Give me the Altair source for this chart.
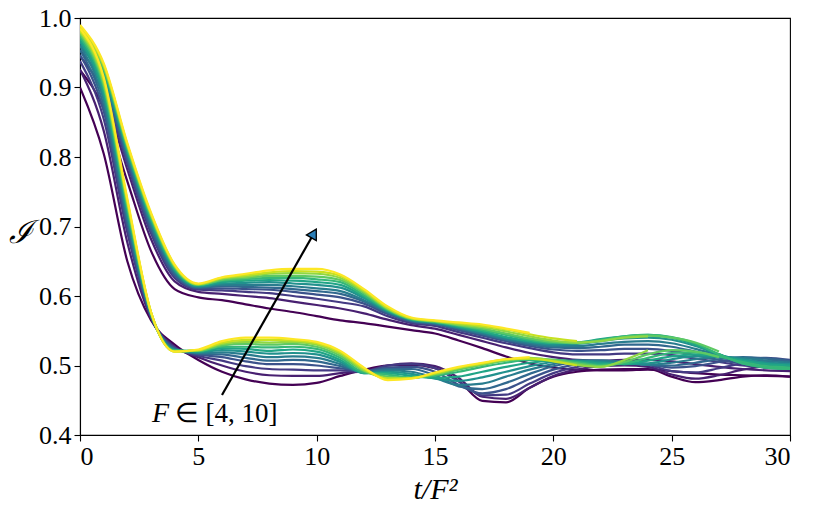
import altair as alt
import pandas as pd

# F values (one curve per F in each family), dark -> yellow
F_values = [4.0, 4.5, 5.0, 5.5, 6.0, 6.5, 7.0, 7.5, 8.0, 8.5, 9.0, 9.5, 10.0]
t_grid = list(range(31))  # t/F^2 sample positions 0..30

# Upper family: row k holds the values at t/F^2 = k for F = 4 ... 10 (shorter rows: curves ended)
upper_by_t = [
    [0.925, 0.945, 0.954, 0.961, 0.966, 0.971, 0.974, 0.978, 0.981, 0.984, 0.986, 0.988, 0.990],
    [0.870, 0.890, 0.899, 0.906, 0.911, 0.916, 0.919, 0.923, 0.926, 0.929, 0.931, 0.933, 0.935],
    [0.765, 0.782, 0.790, 0.795, 0.800, 0.804, 0.807, 0.810, 0.812, 0.815, 0.817, 0.818, 0.820],
    [0.665, 0.682, 0.690, 0.695, 0.700, 0.704, 0.707, 0.710, 0.712, 0.715, 0.717, 0.718, 0.720],
    [0.610, 0.621, 0.626, 0.629, 0.632, 0.635, 0.637, 0.638, 0.640, 0.642, 0.643, 0.644, 0.645],
    [0.598, 0.606, 0.609, 0.611, 0.612, 0.613, 0.614, 0.615, 0.616, 0.616, 0.617, 0.617, 0.618],
    [0.594, 0.603, 0.608, 0.611, 0.614, 0.616, 0.618, 0.620, 0.622, 0.623, 0.625, 0.626, 0.627],
    [0.588, 0.600, 0.606, 0.610, 0.613, 0.616, 0.619, 0.622, 0.624, 0.626, 0.628, 0.630, 0.632],
    [0.582, 0.597, 0.604, 0.609, 0.612, 0.616, 0.620, 0.623, 0.626, 0.629, 0.632, 0.634, 0.637],
    [0.577, 0.592, 0.600, 0.606, 0.610, 0.614, 0.618, 0.622, 0.626, 0.629, 0.633, 0.636, 0.639],
    [0.571, 0.587, 0.596, 0.602, 0.607, 0.611, 0.616, 0.620, 0.624, 0.628, 0.632, 0.635, 0.639],
    [0.565, 0.582, 0.591, 0.598, 0.603, 0.607, 0.612, 0.616, 0.620, 0.623, 0.626, 0.629, 0.631],
    [0.561, 0.575, 0.585, 0.589, 0.592, 0.594, 0.597, 0.599, 0.601, 0.604, 0.606, 0.608, 0.610],
    [0.556, 0.566, 0.571, 0.574, 0.576, 0.577, 0.578, 0.579, 0.580, 0.581, 0.582, 0.583, 0.585],
    [0.551, 0.558, 0.561, 0.563, 0.564, 0.565, 0.566, 0.566, 0.567, 0.567, 0.568, 0.568, 0.569],
    [0.546, 0.553, 0.557, 0.559, 0.560, 0.561, 0.562, 0.562, 0.563, 0.563, 0.564, 0.564, 0.565],
    [0.536, 0.544, 0.548, 0.551, 0.553, 0.554, 0.555, 0.556, 0.557, 0.558, 0.559, 0.561, 0.562],
    [0.525, 0.535, 0.540, 0.543, 0.545, 0.546, 0.548, 0.549, 0.551, 0.553, 0.555, 0.557, 0.559],
    [0.513, 0.526, 0.532, 0.535, 0.537, 0.538, 0.540, 0.541, 0.544, 0.546, 0.549, 0.552, 0.553],
    [0.503, 0.518, 0.525, 0.528, 0.530, 0.532, 0.534, 0.535, 0.537, 0.539, 0.542, 0.545, 0.547],
    [0.497, 0.512, 0.519, 0.523, 0.526, 0.528, 0.530, 0.532, 0.533, 0.534, 0.536, 0.539],
    [0.494, 0.508, 0.516, 0.521, 0.525, 0.528, 0.531, 0.533, 0.533, 0.532, 0.533, 0.535],
    [0.493, 0.507, 0.516, 0.522, 0.527, 0.531, 0.535, 0.538, 0.537, 0.536, 0.535],
    [0.493, 0.508, 0.517, 0.524, 0.530, 0.534, 0.539, 0.542, 0.542, 0.541, 0.540],
    [0.494, 0.508, 0.517, 0.524, 0.530, 0.535, 0.540, 0.544, 0.544, 0.543, 0.542],
    [0.492, 0.506, 0.515, 0.521, 0.527, 0.532, 0.537, 0.540, 0.541, 0.540],
    [0.489, 0.502, 0.510, 0.515, 0.520, 0.524, 0.528, 0.530, 0.532, 0.533],
    [0.487, 0.498, 0.505, 0.508, 0.512, 0.515, 0.516, 0.516, 0.516, 0.520],
    [0.486, 0.495, 0.500, 0.503, 0.506, 0.508, 0.505, 0.503, 0.503],
    [0.485, 0.493, 0.497, 0.500, 0.502, 0.504, 0.499, 0.497, 0.497],
    [0.484, 0.492, 0.496, 0.498, 0.500, 0.502, 0.497, 0.495, 0.495],
]

# Lower family, same layout
lower_by_t = [
    [0.900, 0.926, 0.938, 0.947, 0.954, 0.960, 0.965, 0.969, 0.973, 0.977, 0.980, 0.982, 0.985],
    [0.805, 0.838, 0.855, 0.866, 0.874, 0.882, 0.889, 0.894, 0.900, 0.904, 0.908, 0.912, 0.915],
    [0.650, 0.677, 0.691, 0.700, 0.707, 0.713, 0.718, 0.723, 0.727, 0.731, 0.735, 0.737, 0.740],
    [0.565, 0.568, 0.570, 0.571, 0.572, 0.573, 0.574, 0.575, 0.575, 0.576, 0.576, 0.577, 0.577],
    [0.530, 0.527, 0.526, 0.525, 0.524, 0.523, 0.522, 0.522, 0.521, 0.521, 0.520, 0.520, 0.520],
    [0.508, 0.512, 0.514, 0.516, 0.517, 0.518, 0.519, 0.520, 0.521, 0.521, 0.522, 0.522, 0.523],
    [0.491, 0.500, 0.507, 0.512, 0.516, 0.519, 0.522, 0.525, 0.527, 0.529, 0.531, 0.533, 0.535],
    [0.480, 0.491, 0.499, 0.506, 0.511, 0.516, 0.520, 0.524, 0.527, 0.531, 0.534, 0.537, 0.540],
    [0.474, 0.486, 0.495, 0.502, 0.507, 0.512, 0.517, 0.521, 0.526, 0.530, 0.533, 0.537, 0.540],
    [0.472, 0.485, 0.494, 0.502, 0.508, 0.513, 0.518, 0.523, 0.527, 0.531, 0.534, 0.536, 0.538],
    [0.475, 0.485, 0.493, 0.500, 0.506, 0.511, 0.516, 0.520, 0.524, 0.527, 0.530, 0.532, 0.534],
    [0.485, 0.489, 0.493, 0.496, 0.499, 0.502, 0.505, 0.508, 0.511, 0.514, 0.517, 0.519, 0.521],
    [0.494, 0.492, 0.491, 0.492, 0.491, 0.490, 0.489, 0.489, 0.490, 0.492, 0.493, 0.495, 0.497],
    [0.500, 0.500, 0.500, 0.497, 0.495, 0.493, 0.491, 0.489, 0.487, 0.484, 0.482, 0.481, 0.479],
    [0.501, 0.503, 0.502, 0.498, 0.495, 0.491, 0.488, 0.485, 0.483, 0.482, 0.482, 0.482, 0.481],
    [0.496, 0.499, 0.496, 0.491, 0.486, 0.482, 0.481, 0.482, 0.485, 0.487, 0.488, 0.489, 0.490],
    [0.478, 0.482, 0.477, 0.472, 0.470, 0.472, 0.478, 0.484, 0.491, 0.494, 0.496, 0.497, 0.498],
    [0.449, 0.455, 0.457, 0.460, 0.466, 0.474, 0.483, 0.491, 0.498, 0.501, 0.502, 0.503, 0.504],
    [0.447, 0.452, 0.458, 0.466, 0.475, 0.484, 0.491, 0.498, 0.504, 0.507, 0.508, 0.509, 0.509],
    [0.468, 0.468, 0.474, 0.481, 0.488, 0.494, 0.499, 0.504, 0.508, 0.510, 0.511, 0.510, 0.512],
    [0.484, 0.485, 0.489, 0.494, 0.499, 0.502, 0.505, 0.507, 0.508, 0.508, 0.507, 0.506],
    [0.491, 0.494, 0.498, 0.502, 0.505, 0.507, 0.507, 0.506, 0.505, 0.503, 0.501, 0.500],
    [0.494, 0.499, 0.503, 0.506, 0.507, 0.507, 0.505, 0.503, 0.501, 0.499, 0.498],
    [0.495, 0.500, 0.504, 0.506, 0.506, 0.504, 0.502, 0.502, 0.503, 0.505, 0.508],
    [0.495, 0.498, 0.501, 0.502, 0.501, 0.501, 0.503, 0.507, 0.511, 0.516, 0.522],
    [0.484, 0.487, 0.492, 0.497, 0.500, 0.504, 0.509, 0.513, 0.518, 0.522],
    [0.476, 0.481, 0.490, 0.499, 0.504, 0.509, 0.513, 0.516, 0.519, 0.520],
    [0.479, 0.486, 0.496, 0.505, 0.509, 0.512, 0.513, 0.513, 0.513, 0.512],
    [0.484, 0.494, 0.503, 0.510, 0.512, 0.511, 0.509, 0.507, 0.505],
    [0.486, 0.499, 0.507, 0.511, 0.510, 0.507, 0.504, 0.502, 0.499],
    [0.484, 0.500, 0.506, 0.508, 0.506, 0.504, 0.502, 0.500, 0.497],
]

x_ticks = [0, 5, 10, 15, 20, 25, 30]
y_ticks = [0.4, 0.5, 0.6, 0.7, 0.8, 0.9, 1.0]

records = []
for fam, table in (("upper", upper_by_t), ("lower", lower_by_t)):
    for t, row in zip(t_grid, table):
        for i, val in enumerate(row):
            records.append({"t": t, "I": val, "F": F_values[i], "family": fam})
df = pd.DataFrame(records).sort_values(["F", "family", "t"]).reset_index(drop=True)

FONT = "Liberation Serif"

x_enc = alt.X("t:Q", scale=alt.Scale(domain=[0, 30], nice=False, zero=False),
              axis=alt.Axis(values=x_ticks, title="t/F²", format="d",
                            titleFontStyle="italic", titleFontWeight="normal",
                            titleFontSize=30, titleY=63, titleBaseline="alphabetic"))
y_enc = alt.Y("I:Q", scale=alt.Scale(domain=[0.4, 1.0], nice=False, zero=False),
              axis=alt.Axis(values=y_ticks, format=".1f", title="ℐ", titleAngle=0,
                            titleFontSize=32, titleFontWeight="normal", titleFontStyle="italic",
                            titleX=-60, titleY=214, titleAlign="center", titleBaseline="middle"))

lines = alt.Chart(df).mark_line(strokeWidth=2.2, interpolate="monotone", clip=True).encode(
    x=x_enc, y=y_enc,
    color=alt.Color("F:Q", scale=alt.Scale(scheme="viridis"), legend=None),
    detail="family:N",
    order="t:Q",
)

# annotation arrow
arrow_df = pd.DataFrame({"t": [6.0, 9.88], "I": [0.4576, 0.690]})
arrow_line = alt.Chart(arrow_df).mark_line(color="black", strokeWidth=2.2).encode(
    x="t:Q", y="I:Q")
head_df = pd.DataFrame({"t": [9.88], "I": [0.690]})
arrow_head = alt.Chart(head_df).mark_point(
    shape="triangle-up", filled=True, fill="#2c7fb8", stroke="black", strokeWidth=1.3,
    size=130, angle=30, opacity=1).encode(x="t:Q", y="I:Q")

lab_F = alt.Chart(pd.DataFrame({"t": [3.04], "I": [0.4187], "s": ["F"]})).mark_text(
    align="left", baseline="alphabetic", font=FONT, fontSize=28, fontStyle="italic",
    color="black").encode(x="t:Q", y="I:Q", text="s:N")
lab_rest = alt.Chart(pd.DataFrame({"t": [4.0], "I": [0.4187], "s": ["∈ [4, 10]"]})).mark_text(
    align="left", baseline="alphabetic", font=FONT, fontSize=27,
    color="black").encode(x="t:Q", y="I:Q", text="s:N")

chart = alt.layer(lines, arrow_line, arrow_head, lab_F, lab_rest).properties(
    width=710, height=417,
    padding={"left": 72, "top": 10, "right": 16, "bottom": 76},
    autosize="none",
).configure_view(stroke="black", strokeWidth=1.1).configure_axis(
    grid=False, domainColor="black", domainWidth=1.1, tickColor="black", tickWidth=1.1,
    tickSize=6, labelFont=FONT, titleFont=FONT, labelFontSize=26, labelColor="black",
    titleColor="black", labelPadding=3,
).configure_axisX(labelPadding=2)

chart.save("out.html", embed_options={"renderer": "svg", "actions": False})
